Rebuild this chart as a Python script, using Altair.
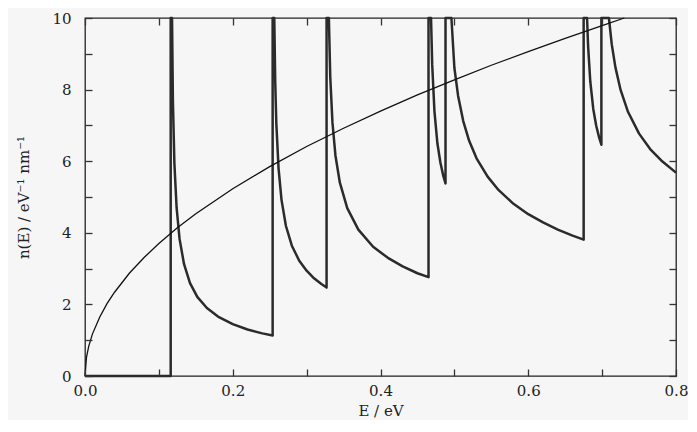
import altair as alt
import pandas as pd

# Quantum-wire density of states (thick sawtooth)
E_dos = [0.0, 0.116, 0.116,
         0.1178, 0.119, 0.121, 0.124, 0.128, 0.134, 0.142, 0.152, 0.165, 0.18, 0.20, 0.22, 0.24, 0.254,
         0.254, 0.2562, 0.2575, 0.259, 0.262, 0.266, 0.272, 0.28, 0.29, 0.30, 0.31, 0.32, 0.327,
         0.327, 0.3301, 0.332, 0.335, 0.339, 0.345, 0.355, 0.37, 0.39, 0.41, 0.43, 0.45, 0.465,
         0.465, 0.4684, 0.470, 0.473, 0.477, 0.481, 0.485, 0.488,
         0.488, 0.496, 0.50, 0.505, 0.512, 0.52, 0.53, 0.545, 0.56, 0.58, 0.60, 0.62, 0.64, 0.66, 0.675,
         0.675, 0.6796, 0.681, 0.684, 0.688, 0.692, 0.696, 0.699,
         0.699, 0.7092, 0.713, 0.718, 0.725, 0.735, 0.75, 0.765, 0.78, 0.80]
n_dos = [0.0, 0.0, 10.0,
         10.0, 7.67, 5.94, 4.70, 3.83, 3.13, 2.60, 2.21, 1.90, 1.66, 1.45, 1.30, 1.19, 1.13,
         10.0, 10.0, 8.21, 7.05, 5.80, 4.92, 4.19, 3.64, 3.22, 2.94, 2.73, 2.57, 2.47,
         10.0, 10.0, 8.35, 7.07, 6.16, 5.40, 4.69, 4.09, 3.61, 3.30, 3.06, 2.87, 2.76,
         10.0, 10.0, 8.69, 7.40, 6.50, 5.97, 5.59, 5.38,
         10.0, 10.0, 8.61, 7.83, 7.12, 6.57, 6.08, 5.57, 5.19, 4.81, 4.52, 4.29, 4.09, 3.92, 3.81,
         10.0, 10.0, 9.22, 8.22, 7.46, 6.99, 6.66, 6.46,
         10.0, 10.0, 9.27, 8.62, 7.99, 7.38, 6.77, 6.34, 6.02, 5.68]

# Bulk (3D) density of states, thin rising curve
E_bulk = [0.0, 0.002, 0.005, 0.01, 0.02, 0.03, 0.04, 0.06, 0.08, 0.10, 0.125, 0.15, 0.20,
          0.25, 0.30, 0.35, 0.40, 0.45, 0.50, 0.55, 0.60, 0.65, 0.70, 0.73]
n_bulk = [0.0, 0.52, 0.83, 1.17, 1.65, 2.03, 2.34, 2.87, 3.31, 3.70, 4.14, 4.53, 5.23,
          5.85, 6.41, 6.92, 7.40, 7.85, 8.27, 8.68, 9.06, 9.43, 9.79, 10.0]

x_ticks = [0.0, 0.1, 0.2, 0.3, 0.4, 0.5, 0.6, 0.7, 0.8]
y_ticks = [0, 1, 2, 3, 4, 5, 6, 7, 8, 9, 10]

dos = pd.DataFrame({"E": E_dos, "n": n_dos, "i": list(range(len(E_dos)))})
bulk = pd.DataFrame({"E": E_bulk, "n": n_bulk, "i": list(range(len(E_bulk)))})

FONT = "DejaVu Serif"
TICK = 7
xscale = alt.Scale(domain=[0, 0.8], nice=False)
yscale = alt.Scale(domain=[0, 10], nice=False)

common = dict(offset=-TICK, tickSize=TICK, ticks=True, domain=False, grid=False, zindex=1,
              tickColor="#333333", tickWidth=1.3, tickOpacity=1)

x_bottom = alt.Axis(values=x_ticks, orient="bottom", labelPadding=7, title="E / eV", titlePadding=5,
                    labelExpr="(round(datum.value*10) % 2 == 0) ? format(datum.value, '.1f') : ''",
                    labelFlush=False, **common)
y_left = alt.Axis(values=y_ticks, orient="left", labelPadding=14, title="n(E) / eV⁻¹ nm⁻¹",
                  titlePadding=20,
                  labelExpr="(datum.value % 2 == 0) ? format(datum.value, 'd') : ''", **common)
x_top = alt.Axis(values=x_ticks, orient="top", labels=False, title=None, **common)
y_right = alt.Axis(values=y_ticks, orient="right", labels=False, title=None, **common)

dos_line = alt.Chart(dos).mark_line(color="#2b2b2b", strokeWidth=2.5, strokeJoin="round").encode(
    x=alt.X("E:Q", scale=xscale, axis=x_bottom),
    y=alt.Y("n:Q", scale=yscale, axis=y_left),
    order="i:Q",
)
bulk_line = alt.Chart(bulk).mark_line(color="#111111", strokeWidth=1.3).encode(
    x=alt.X("E:Q", scale=xscale, axis=x_top),
    y=alt.Y("n:Q", scale=yscale, axis=y_right),
    order="i:Q",
)

chart = alt.layer(dos_line, bulk_line).resolve_axis(x="independent", y="independent").properties(
    width=591, height=358, background="#f6f6f6",
    padding={"left": 8, "top": 3, "right": 0, "bottom": 2},
).configure_view(stroke="#222222", strokeWidth=1.3).configure_axis(
    labelFont=FONT, titleFont=FONT, labelFontSize=15, titleFontSize=15,
    labelColor="#222222", titleColor="#222222",
    titleFontWeight="normal",
)

chart.save("out.html", embed_options={"renderer": "svg", "actions": False})
